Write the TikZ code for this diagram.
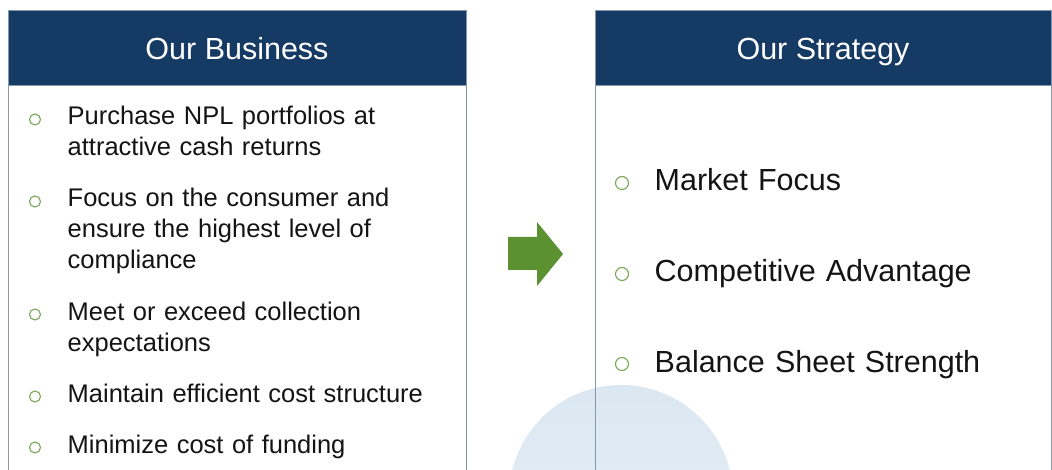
\documentclass[tikz,border=0pt]{standalone}
\usepackage{fontspec}
\setmainfont{Liberation Sans}
\usepackage{tikz}

\definecolor{headnavy}{RGB}{21,58,99}
\definecolor{boxline}{RGB}{132,151,176}
\definecolor{dotgreen}{RGB}{122,166,88}
\definecolor{arrowgreen}{RGB}{91,145,48}
\definecolor{discblue}{RGB}{219,231,241}
\definecolor{disclight}{RGB}{234,241,248}

\begin{document}
\begin{tikzpicture}[x=1pt, y=-1pt,
    header/.style={fill=headnavy, draw=boxline, line width=0.9pt, text=white,
      minimum height=75pt, inner sep=0pt, text height=25pt, text depth=0pt,
      font=\fontsize{30.5}{36}\selectfont},
    item/.style={anchor=base west, inner sep=0pt, text width=395pt, align=left,
      text=black!92, font=\fontsize{25.5}{31}\selectfont},
    bigitem/.style={item, font=\fontsize{30.5}{36}\selectfont},
    dot/.style={circle, draw=dotgreen, line width=1.1pt, minimum size=11pt, inner sep=0pt}]
    % Page frame
    \clip (0,0) rectangle (1052,470);
    \fill[white] (0,0) rectangle (1052,470);

    % Pale disc behind the strategy column
    \shade[top color=discblue, bottom color=disclight] (621,497) circle (112);

    % Column outlines (run off the bottom of the page)
    \draw[boxline, line width=0.9pt] (8,10) rectangle (466,500);
    \draw[boxline, line width=0.9pt] (595,10) rectangle (1051,500);

    % Column headers
    \node[header, minimum width=458pt] (busHead) at (237,47.5) {Our Business};
    \node[header, minimum width=456pt] (stratHead) at (823,47.5) {Our Strategy};

    % Business items: index / baseline / text
    \foreach \n/\y/\txt in {1/125/{Purchase NPL portfolios at\\attractive cash returns},
        2/207/{Focus on the consumer and\\ensure the highest level of\\compliance},
        3/320/{Meet or exceed collection\\expectations},
        4/402/{Maintain efficient cost structure},
        5/453/{Minimize cost of funding}} {
      \node[item] (busItem\n) at (67.5,\y) {\txt};
      \node[dot] (busDot\n) at (35,\y-5.5) {};
    }

    % Strategy items
    \foreach \n/\y/\txt in {1/191/Market Focus, 2/282/Competitive Advantage,
        3/372/Balance Sheet Strength} {
      \node[bigitem] (stratItem\n) at (654.5,\y) {\txt};
      \node[dot, minimum size=13pt] (stratDot\n) at (622,\y-8) {};
    }

    % Block arrow between the columns
    \fill[arrowgreen] (508,237) -- (537,237) -- (537,222) -- (563,254)
      -- (537,286) -- (537,270) -- (508,270) -- cycle;
\end{tikzpicture}
\end{document}
